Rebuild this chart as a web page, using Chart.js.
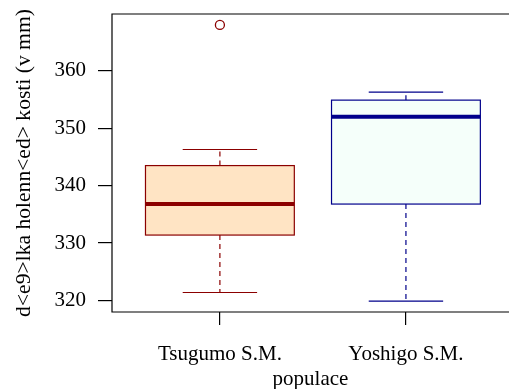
<!DOCTYPE html>
<html lang="cs">
<head>
    <meta charset="UTF-8">
    <title>populace</title>
    <style>
        html, body {
            margin: 0;
            padding: 0;
            background-color: #fff;
            overflow: hidden;
        }

        canvas {
            display: block;
        }
    </style>
    <script src="https://cdn.jsdelivr.net/npm/chart.js"></script>
</head>
<body>
    <canvas id="boxChart" width="509" height="389"></canvas>
    <script>
        // data
        const populace = ['Tsugumo S.M.', 'Yoshigo S.M.'];
        const whiskLow = [321.4, 319.9];
        const q1 = [331.4, 336.8];
        const median = [336.8, 352.0];
        const q3 = [343.5, 354.9];
        const whiskHigh = [346.3, 356.3];
        const outliers = [[368.0], []];
        const yTicks = [320, 330, 340, 350, 360];

        const fills = ['#FFE4C4', '#F5FFFA'];
        const borders = ['#8B0000', '#00008B'];

        const FONT = "'Liberation Serif', 'Times New Roman', serif";

        // boxes, whiskers and staples drawn through the chart scales
        const boxPlugin = {
            id: 'boxPlugin',
            beforeDatasetsDraw(chart) {
                const ctx = chart.ctx;
                const x = chart.scales.x;
                const y = chart.scales.y;
                ctx.save();
                populace.forEach((name, i) => {
                    const pos = i + 1;
                    const left = x.getPixelForValue(pos - 0.4);
                    const right = x.getPixelForValue(pos + 0.4);
                    const cx = x.getPixelForValue(pos);
                    const sl = x.getPixelForValue(pos - 0.2);
                    const sr = x.getPixelForValue(pos + 0.2);
                    const yq1 = y.getPixelForValue(q1[i]);
                    const yq3 = y.getPixelForValue(q3[i]);
                    const ymed = y.getPixelForValue(median[i]);
                    const ylo = y.getPixelForValue(whiskLow[i]);
                    const yhi = y.getPixelForValue(whiskHigh[i]);

                    // whiskers
                    ctx.strokeStyle = borders[i];
                    ctx.lineWidth = 1.2;
                    ctx.setLineDash([5, 4]);
                    ctx.beginPath();
                    ctx.moveTo(cx, yq1);
                    ctx.lineTo(cx, ylo);
                    ctx.moveTo(cx, yq3);
                    ctx.lineTo(cx, yhi);
                    ctx.stroke();
                    ctx.setLineDash([]);

                    // staples
                    ctx.beginPath();
                    ctx.moveTo(sl, ylo);
                    ctx.lineTo(sr, ylo);
                    ctx.moveTo(sl, yhi);
                    ctx.lineTo(sr, yhi);
                    ctx.stroke();

                    // box
                    ctx.fillStyle = fills[i];
                    ctx.fillRect(left, yq3, right - left, yq1 - yq3);
                    ctx.strokeRect(left, yq3, right - left, yq1 - yq3);

                    // median
                    ctx.lineWidth = 4;
                    ctx.beginPath();
                    ctx.moveTo(left, ymed);
                    ctx.lineTo(right, ymed);
                    ctx.stroke();
                });
                ctx.restore();
            },
            afterDraw(chart) {
                // plot frame; its right side lies past the canvas edge
                const ctx = chart.ctx;
                const a = chart.chartArea;
                ctx.save();
                ctx.strokeStyle = '#000';
                ctx.lineWidth = 1.2;
                ctx.beginPath();
                ctx.moveTo(a.right, a.top);
                ctx.lineTo(a.left, a.top);
                ctx.lineTo(a.left, a.bottom);
                ctx.lineTo(a.right, a.bottom);
                ctx.stroke();
                ctx.restore();
            }
        };

        const outlierData = [];
        outliers.forEach((vals, i) => {
            vals.forEach(v => outlierData.push({ x: i + 1, y: v }));
        });

        const ctx = document.getElementById('boxChart').getContext('2d');
        const boxChart = new Chart(ctx, {
            type: 'scatter',
            data: {
                datasets: [{
                    data: outlierData,
                    pointStyle: 'circle',
                    pointRadius: 4.5,
                    pointBorderWidth: 1.3,
                    pointBorderColor: outlierData.map(p => borders[p.x - 1]),
                    pointBackgroundColor: 'rgba(0,0,0,0)'
                }]
            },
            options: {
                responsive: false,
                animation: false,
                devicePixelRatio: 1,
                layout: {
                    autoPadding: false,
                    padding: { top: 14, left: 0, right: 0, bottom: 0 }
                },
                plugins: {
                    legend: { display: false },
                    tooltip: { enabled: false }
                },
                scales: {
                    x: {
                        type: 'linear',
                        min: 0.42,
                        max: 2.554,
                        afterBuildTicks: (scale) => {
                            scale.ticks = populace.map((p, i) => ({ value: i + 1 }));
                        },
                        afterFit: (scale) => {
                            scale.height = 77;
                            scale.paddingLeft = 0;
                            scale.paddingRight = 0;
                        },
                        border: { display: false },
                        grid: {
                            drawOnChartArea: false,
                            drawTicks: true,
                            tickLength: 13,
                            color: '#000',
                            lineWidth: 1.2
                        },
                        ticks: {
                            padding: 17,
                            color: '#000',
                            font: { family: FONT, size: 21 },
                            maxRotation: 0,
                            autoSkip: false,
                            callback: (value, index) => populace[index]
                        },
                        title: {
                            display: true,
                            text: 'populace',
                            color: '#000',
                            font: { family: FONT, size: 21 },
                            padding: { top: 0, bottom: -3 }
                        }
                    },
                    y: {
                        min: 318.0,
                        max: 369.9,
                        afterBuildTicks: (scale) => {
                            scale.ticks = yTicks.map(v => ({ value: v }));
                        },
                        afterFit: (scale) => {
                            scale.width = 112;
                            scale.paddingTop = 0;
                            scale.paddingBottom = 0;
                        },
                        border: { display: false },
                        grid: {
                            drawOnChartArea: false,
                            drawTicks: true,
                            tickLength: 14,
                            color: '#000',
                            lineWidth: 1.2
                        },
                        ticks: {
                            padding: 12,
                            color: '#000',
                            font: { family: FONT, size: 21 }
                        },
                        title: {
                            display: true,
                            text: 'd<e9>lka holenn<ed> kosti (v mm)',
                            color: '#000',
                            font: { family: FONT, size: 21.6 },
                            padding: { top: 11, bottom: 0 }
                        }
                    }
                }
            },
            plugins: [boxPlugin]
        });
    </script>
</body>
</html>
